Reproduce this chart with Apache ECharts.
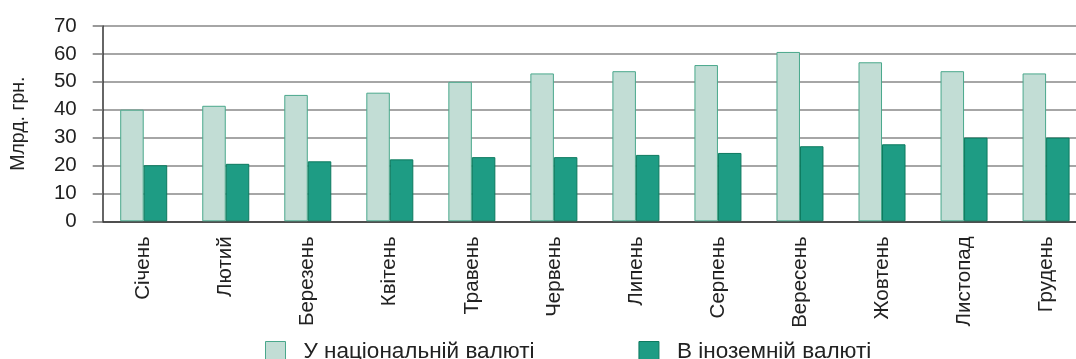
<!DOCTYPE html>
<html><head><meta charset="utf-8">
<script src="https://cdn.jsdelivr.net/npm/echarts@6/dist/echarts.min.js"></script>
<style>html,body{margin:0;padding:0;background:#fff;overflow:hidden}#c{width:1090px;height:359px}</style>
</head><body><div id="c"></div>
<script>
const categories = ['Січень','Лютий','Березень','Квітень','Травень','Червень','Липень','Серпень','Вересень','Жовтень','Листопад','Грудень'];
const nationalCurrency = [40.0, 41.4, 45.3, 46.1, 50.0, 53.0, 53.8, 56.0, 60.7, 57.0, 53.8, 53.0];
const foreignCurrency = [20.1, 20.6, 21.5, 22.2, 23.0, 23.0, 23.8, 24.5, 26.9, 27.6, 30.0, 30.0];
const seriesNames = ['У національній валюті', 'В іноземній валюті'];
const yAxisName = 'Млрд. грн.';

const font = 'Liberation Sans, Arial, sans-serif';
const chart = echarts.init(document.getElementById('c'), null, {renderer: 'canvas'});
chart.setOption({
  animation: false,
  grid: {left: 102.7, top: 26, width: 984.4, bottom: 137.7, containLabel: false},
  legend: {
    top: 340, left: 265, padding: 0,
    icon: 'rect',
    itemWidth: 20, itemHeight: 20, itemGap: 104,
    textStyle: {fontFamily: font, fontSize: 22.5, color: '#222', padding: [0,0,0,13]},
    data: [
      {name: seriesNames[0], itemStyle: {color: '#c2ddd5', borderColor: '#4aa88c', borderWidth: 1}},
      {name: seriesNames[1], itemStyle: {color: '#1e9c84', borderColor: '#0d7a5f', borderWidth: 1}}
    ]
  },
  xAxis: {
    type: 'category', data: categories,
    axisLine: {lineStyle: {color: '#333', width: 1.5}},
    axisTick: {length: 10, lineStyle: {color: '#555', width: 1.5}},
    axisLabel: {rotate: 90, margin: 15, fontFamily: font, fontSize: 20.5, color: '#222', interval: 0}
  },
  yAxis: {
    type: 'value', min: 0, max: 70, interval: 10,
    name: yAxisName, nameLocation: 'middle', nameGap: 74,
    nameTextStyle: {fontFamily: font, fontSize: 19.5, color: '#222'},
    axisLine: {show: true, lineStyle: {color: '#333', width: 1.5}},
    axisTick: {show: true, length: 10, lineStyle: {color: '#777', width: 1.5}},
    axisLabel: {margin: 26, fontFamily: font, fontSize: 20.5, color: '#222'},
    splitLine: {lineStyle: {color: '#888', width: 1.5}}
  },
  series: [
    {name: seriesNames[0], type: 'bar', data: nationalCurrency, barWidth: 23.5, barGap: '0%',
     itemStyle: {color: '#c2ddd5', borderColor: '#4aa88c', borderWidth: 1}},
    {name: seriesNames[1], type: 'bar', data: foreignCurrency, barWidth: 23.5, barGap: '0%',
     itemStyle: {color: '#1e9c84', borderColor: '#0d7a5f', borderWidth: 1}}
  ]
});
</script></body></html>
